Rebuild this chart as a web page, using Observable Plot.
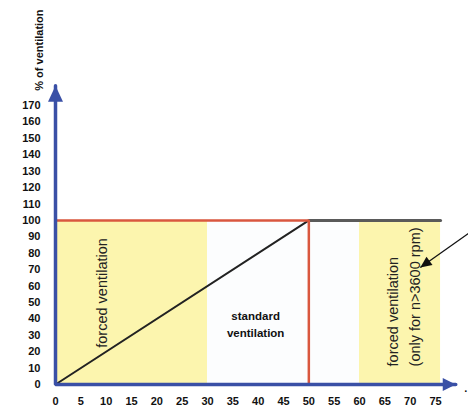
<!DOCTYPE html>
<html>
<head>
<meta charset="utf-8">
<script src="https://cdn.jsdelivr.net/npm/d3@7"></script>
<script src="https://cdn.jsdelivr.net/npm/@observablehq/plot@0.6"></script>
<style>
  html, body { margin: 0; padding: 0; background: #fff; }
  svg { display: block; }
</style>
</head>
<body>
<div id="chart"></div>
<script>
// ---- data ----
const xTicks = [0, 5, 10, 15, 20, 25, 30, 35, 40, 45, 50, 55, 60, 65, 70, 75];
const yTicks = [0, 10, 20, 30, 40, 50, 60, 70, 80, 90, 100, 110, 120, 130, 140, 150, 160, 170];
const zoneStart = [0, 30, 60];
const zoneEnd = [30, 60, 76];
const zoneKind = ["forced", "standard", "forced"];
const zoneTop = 100;
const limitX = [0, 50, 50];
const limitY = [100, 100, 0];
const rampX = [0, 50];
const rampY = [0, 100];
const plateauX = [50, 76];
const plateauY = [100, 100];
const axisX = [0, 0, 79];
const axisY = [182, 0, 0];
const yLabel = "% of ventilation";
const labelLeft = "forced ventilation";
const labelMid = "standard\nventilation";
const labelRight = "forced ventilation\n(only for n>3600 rpm)";

// ---- build ----
const zones = zoneStart.map((s, i) => ({x1: s, x2: zoneEnd[i], kind: zoneKind[i]}));
const limit = limitX.map((x, i) => ({x, y: limitY[i]}));
const ramp = rampX.map((x, i) => ({x, y: rampY[i]}));
const plateau = plateauX.map((x, i) => ({x, y: plateauY[i]}));
const axisPath = axisX.map((x, i) => ({x, y: axisY[i]}));
const pointer = [{x1: 81.5, y1: 92, x2: 72, y2: 71.3}];

const blue = "#3a50a6";
const font = "'Liberation Sans', Arial, sans-serif";

const headUp = {draw(ctx) { ctx.moveTo(0, 0); ctx.lineTo(-7.5, 16); ctx.lineTo(7.5, 16); ctx.closePath(); }};
const headRight = {draw(ctx) { ctx.moveTo(0, 0); ctx.lineTo(-13, -6.5); ctx.lineTo(-13, 6.5); ctx.closePath(); }};
const headPointer = {draw(ctx) { ctx.moveTo(0, 0); ctx.lineTo(12.2, -2.4); ctx.lineTo(6.2, -10.8); ctx.closePath(); }};

const chart = Plot.plot({
  width: 468,
  height: 408,
  marginLeft: 55,
  marginRight: 33,
  marginTop: 105,
  marginBottom: 24,
  x: {domain: [0, 75], axis: null},
  y: {domain: [0, 170], axis: null},
  style: {background: "#fff", fontFamily: font},
  marks: [
    Plot.rectY(zones, {x1: "x1", x2: "x2", y1: 0, y2: zoneTop,
      fill: d => d.kind === "forced" ? "#fcf5ae" : "#fcfdfe"}),
    Plot.line(ramp, {x: "x", y: "y", stroke: "#222", strokeWidth: 2}),
    Plot.line(plateau, {x: "x", y: "y", stroke: "#5a5a5a", strokeWidth: 3}),
    Plot.line(limit, {x: "x", y: "y", stroke: "#d9573f", strokeWidth: 2.5, strokeLinejoin: "miter"}),
    // axes
    Plot.line(axisPath, {x: "x", y: "y", stroke: blue, strokeWidth: 3.5, strokeLinejoin: "miter"}),
    Plot.dot([{x: axisX[0], y: axisY[0]}], {x: "x", y: "y", symbol: headUp, r: 5, fill: blue, stroke: null}),
    Plot.dot([{x: axisX[2], y: axisY[2]}], {x: "x", y: "y", symbol: headRight, r: 5, fill: blue, stroke: null}),
    // tick labels
    Plot.text(xTicks, {x: d => d, y: 0, text: d => String(d), dy: 17, fontSize: 11, fontWeight: "bold", fill: "#111"}),
    Plot.text(yTicks, {x: 0, y: d => d, text: d => String(d), dx: -15, textAnchor: "end", fontSize: 11, fontWeight: "bold", fill: "#111"}),
    Plot.text([yLabel], {x: -3.2, y: 179, text: d => d, rotate: -90, textAnchor: "start", fontSize: 11, fontWeight: "bold", fill: "#111"}),
    Plot.text(["."], {x: 81, y: 0, text: d => d, dy: 4, fontSize: 11, fontWeight: "bold", fill: "#111"}),
    // zone labels
    Plot.text([labelLeft], {x: 9.3, y: 22.4, text: d => d, rotate: -90, textAnchor: "start", fontSize: 14.5, fill: "#222"}),
    Plot.text([labelRight], {x: 68.4, y: 11, text: d => d, rotate: -90, textAnchor: "start", lineAnchor: "middle", lineHeight: 1.55, fontSize: 14.5, fill: "#222"}),
    Plot.text([labelMid], {x: 39.5, y: 37.3, text: d => d, lineHeight: 1.45, fontSize: 11.5, fontWeight: "bold", fill: "#111"}),
    // annotation pointer
    Plot.link(pointer, {x1: "x1", y1: "y1", x2: "x2", y2: "y2", stroke: "#111", strokeWidth: 1.3}),
    Plot.dot(pointer, {x: "x2", y: "y2", symbol: headPointer, r: 5, fill: "#111", stroke: null})
  ]
});
document.getElementById("chart").appendChild(chart);
</script>
</body>
</html>
